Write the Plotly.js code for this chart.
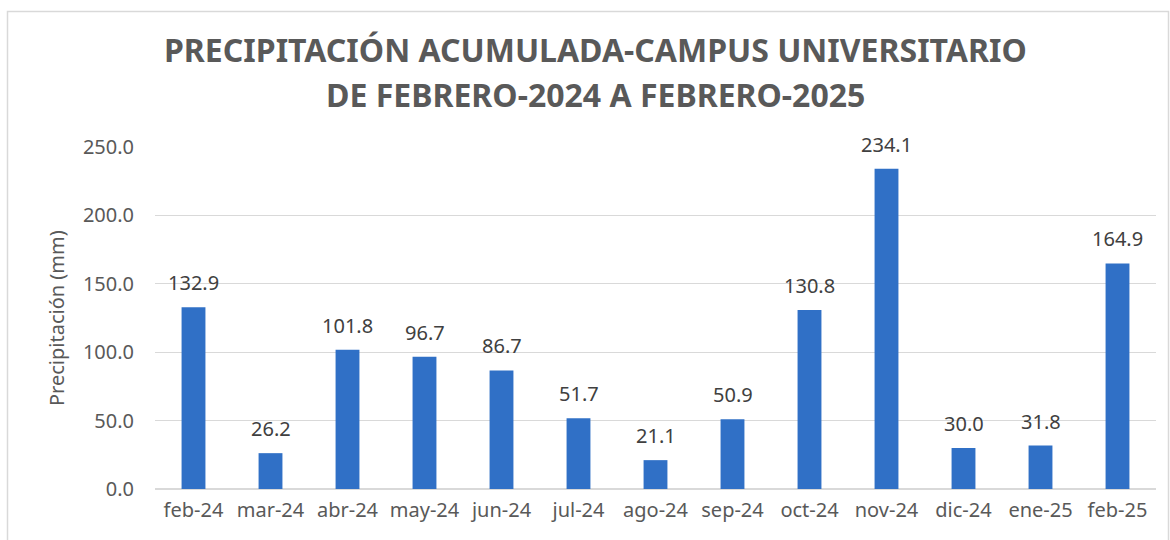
<!DOCTYPE html>
<html><head><meta charset="utf-8">
<script src="https://cdn.plot.ly/plotly-3.0.1.min.js"></script>
<style>html,body{margin:0;padding:0;background:#fff;}#chart{width:1170px;height:540px;}</style>
</head><body><div id="chart"></div>
<script>
const months = ["feb-24","mar-24","abr-24","may-24","jun-24","jul-24","ago-24","sep-24","oct-24","nov-24","dic-24","ene-25","feb-25"];
const precipitation = [132.9, 26.2, 101.8, 96.7, 86.7, 51.7, 21.1, 50.9, 130.8, 234.1, 30.0, 31.8, 164.9];
const titleLines = ["PRECIPITACIÓN ACUMULADA-CAMPUS UNIVERSITARIO", "DE FEBRERO-2024 A FEBRERO-2025"];
const yTitle = "Precipitación (mm)";
const yTicks = [0, 50, 100, 150, 200, 250];

const L = 155, R = 14, T = 147, B = 51, W = 1170, H = 540;
const pw = W - L - R, ph = H - T - B;
const px = x => (x - L) / pw;
const py = y => (H - B - y) / ph;
const FONT = "Noto Sans, Open Sans, sans-serif";

const trace = {
  type: "bar",
  x: months,
  y: precipitation,
  marker: {color: "#3070c6"},
  cliponaxis: false,
  hoverinfo: "x+y"
};

const labelAnns = months.map((m, i) => ({
  x: m, y: precipitation[i], xref: "x", yref: "y",
  text: precipitation[i].toFixed(1),
  showarrow: false, xanchor: "center", yanchor: "bottom", yshift: 9,
  font: {family: FONT, size: 20, color: "#404040"}
}));

const titleAnns = titleLines.map((t, i) => ({
  text: "<b>" + t + "</b>",
  xref: "paper", yref: "paper",
  x: px(595), y: py(i === 0 ? 50 : 95),
  xanchor: "center", yanchor: "middle",
  showarrow: false,
  font: {family: FONT, size: 32, color: "#595959"}
}));

const yTitleAnn = {
  text: yTitle, xref: "paper", yref: "paper",
  x: px(56), y: 0.5, xanchor: "center", yanchor: "middle",
  textangle: -90, showarrow: false,
  font: {family: FONT, size: 20, color: "#595959"}
};

const layout = {
  width: W, height: H,
  margin: {l: L, r: R, t: T, b: B},
  paper_bgcolor: "#ffffff",
  plot_bgcolor: "#ffffff",
  bargap: 0.69,
  showlegend: false,
  font: {family: FONT, color: "#595959"},
  xaxis: {
    type: "category",
    tickfont: {family: FONT, size: 20, color: "#595959"},
    showgrid: false, zeroline: false, showline: false, ticks: "",
    ticklabelstandoff: 7
  },
  yaxis: {
    range: [0, 250],
    tickvals: yTicks,
    tickformat: ".1f",
    tickfont: {family: FONT, size: 20, color: "#595959"},
    showgrid: true, gridcolor: "#d9d9d9", gridwidth: 1.3,
    zeroline: true, zerolinecolor: "#d9d9d9", zerolinewidth: 1.3,
    showline: false, ticks: "",
    ticklabelstandoff: 20
  },
  annotations: titleAnns.concat([yTitleAnn], labelAnns),
  shapes: [{
    type: "rect", xref: "paper", yref: "paper",
    x0: px(7.5), x1: px(1168.5), y0: py(560), y1: py(11.5),
    line: {color: "#d9d9d9", width: 1.5}, fillcolor: "rgba(0,0,0,0)", layer: "below"
  }]
};

Plotly.newPlot("chart", [trace], layout, {displayModeBar: false, staticPlot: true});
</script>
</body></html>
